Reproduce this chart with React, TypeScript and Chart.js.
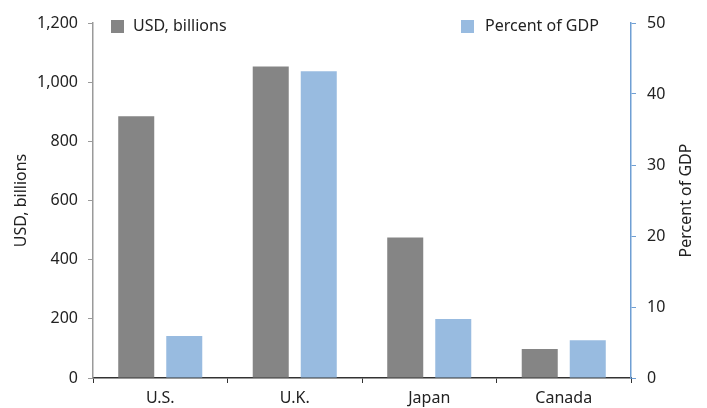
import React, { useEffect, useRef } from "react";
import { Chart, registerables } from "chart.js";

Chart.register(...registerables);

const categories = ["U.S.", "U.K.", "Japan", "Canada"];
const usdBillions = [885, 1053, 475, 98];
const percentOfGdp = [5.9, 43.2, 8.3, 5.3];
const seriesNames = ["USD, billions", "Percent of GDP"];

const GRAY = "#858585";
const BLUE = "#98bbe0";
const FONT = "'Noto Sans', sans-serif";
const TEXT = "#222222";

const legendPlugin = {
  id: "splitLegend",
  afterDraw(chart: any) {
    const { ctx, chartArea } = chart;
    ctx.save();
    ctx.font = `16px ${FONT}`;
    ctx.textBaseline = "middle";
    const y = chartArea.top + 3;
    ctx.fillStyle = GRAY;
    ctx.fillRect(chartArea.left + 18, y - 6, 13, 13);
    ctx.fillStyle = TEXT;
    ctx.fillText(seriesNames[0], chartArea.left + 40, y);
    ctx.fillStyle = BLUE;
    ctx.fillRect(chartArea.left + 368, y - 6, 13, 13);
    ctx.fillStyle = TEXT;
    ctx.fillText(seriesNames[1], chartArea.left + 392, y);

    // axis titles, both reading bottom-to-top
    const cy = (chartArea.top + chartArea.bottom) / 2;
    ctx.textAlign = "center";
    ctx.translate(21, cy);
    ctx.rotate(-Math.PI / 2);
    ctx.fillText(seriesNames[0], 0, 0);
    ctx.rotate(Math.PI / 2);
    ctx.translate(-21, -cy);
    ctx.translate(686, cy);
    ctx.rotate(-Math.PI / 2);
    ctx.fillText(seriesNames[1], 0, 0);
    ctx.restore();
  },
};

export default function App() {
  const ref = useRef<HTMLCanvasElement>(null);
  useEffect(() => {
    if (!ref.current) return;
    const chart = new Chart(ref.current, {
      type: "bar",
      data: {
        labels: categories,
        datasets: [
          {
            label: seriesNames[0],
            data: usdBillions,
            backgroundColor: GRAY,
            yAxisID: "y",
            categoryPercentage: 0.714,
            barPercentage: 0.75,
          },
          {
            label: seriesNames[1],
            data: percentOfGdp,
            backgroundColor: BLUE,
            yAxisID: "y1",
            categoryPercentage: 0.714,
            barPercentage: 0.75,
          },
        ],
      },
      options: {
        animation: false,
        responsive: false,
        layout: { padding: { top: 23, left: 0, right: 0, bottom: 0 } },
        plugins: { legend: { display: false }, tooltip: { enabled: false } },
        scales: {
          x: {
            offset: true,
            grid: {
              offset: true,
              drawOnChartArea: false,
              drawTicks: true,
              tickLength: 5,
              color: "#333333",
            },
            border: { color: "#333333", width: 1.5 },
            ticks: { color: TEXT, font: { family: FONT, size: 16 }, padding: 6 },
            afterFit(s: any) {
              s.height = 30;
            },
          },
          y: {
            position: "left",
            min: 0,
            max: 1200,
            ticks: {
              stepSize: 200,
              color: TEXT,
              font: { family: FONT, size: 16 },
              padding: 10,
            },
            grid: { drawOnChartArea: false, tickLength: 5, color: "#9a9a9a" },
            border: { color: "#9a9a9a", width: 1.5 },
            afterFit(s: any) {
              s.width = 93;
            },
          },
          y1: {
            position: "right",
            min: 0,
            max: 50,
            ticks: {
              stepSize: 10,
              color: TEXT,
              font: { family: FONT, size: 16 },
              padding: 11,
            },
            grid: { drawOnChartArea: false, tickLength: 5, color: "#6f9fd4" },
            border: { color: "#6f9fd4", width: 1.5 },
            afterFit(s: any) {
              s.width = 76;
            },
          },
        },
      },
      plugins: [legendPlugin],
    });
    return () => chart.destroy();
  }, []);
  return (
    <div style={{ position: "fixed", left: 0, top: 0, width: 707, height: 408, background: "#fff" }}>
      <canvas ref={ref} width={707} height={408} style={{ display: "block" }} />
    </div>
  );
}
